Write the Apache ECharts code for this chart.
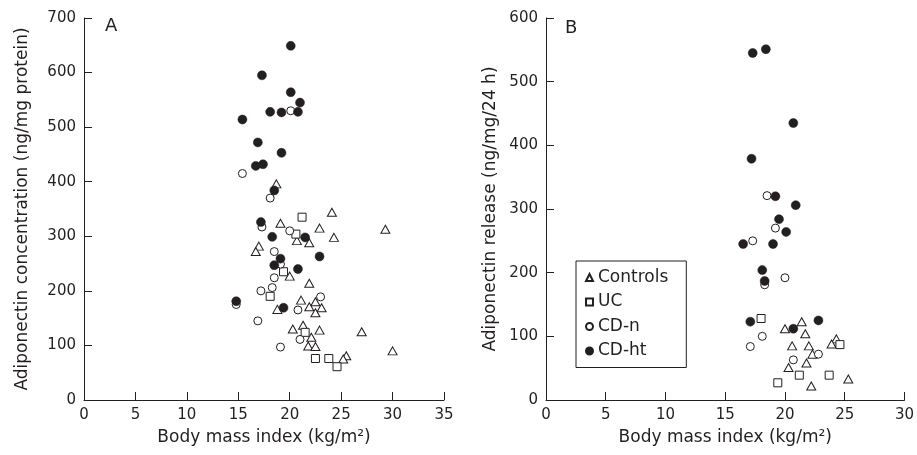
<!DOCTYPE html>
<html>
<head>
<meta charset="utf-8">
<script src="https://cdn.jsdelivr.net/npm/echarts@6/dist/echarts.min.js"></script>
<style>
  html, body { margin: 0; padding: 0; background: #fff; }
  #chart { width: 917px; height: 455px; }
</style>
</head>
<body>
<div id="chart"></div>
<script>
// Panel A: adiponectin concentration vs BMI, [BMI, ng/mg protein]
const controlsA = [[18.7,396],[24.1,344],[19.1,324],[22.9,315],[29.3,313],[20.7,292],[21.9,288],[24.3,298],[17.0,282],[16.7,272],[20.0,227],[21.9,214],[21.1,183],[22.5,180],[21.9,171],[23.1,169],[22.5,160],[18.8,166],[20.3,130],[21.3,137],[22.9,128],[27.0,125],[22.1,115],[21.8,99],[22.5,98],[30.0,90],[25.5,81],[25.2,75]];
const ucA = [[21.2,335],[20.6,304],[19.4,235],[18.1,190],[21.5,124],[22.5,76],[23.8,76],[24.6,61]];
const cdnA = [[15.4,415],[20.1,530],[18.1,370],[17.3,317],[20.0,310],[18.5,272],[19.1,249],[18.5,224],[18.3,206],[17.2,200],[23.0,189],[14.8,175],[20.8,165],[16.9,145],[21.0,111],[19.1,97]];
const cdhtA = [[20.1,649],[17.3,595],[20.1,564],[21.0,545],[18.1,528],[19.2,527],[20.8,528],[15.4,514],[16.9,472],[19.2,453],[16.7,429],[17.4,432],[18.5,384],[17.2,326],[18.3,299],[21.5,298],[19.1,259],[18.5,247],[22.9,263],[20.8,240],[14.8,181],[19.4,169]];

// Panel B: adiponectin release vs BMI, [BMI, ng/mg/24 h]
const controlsB = [[21.4,123],[20.0,112],[21.7,104],[20.6,85],[22.0,85],[22.3,72],[24.3,96],[23.9,88],[21.8,58],[20.3,51],[22.2,22],[25.3,33]];
const ucB = [[18.0,128],[24.6,87],[21.2,39],[23.7,39],[19.4,27]];
const cdnB = [[18.5,321],[19.2,270],[17.3,250],[20.0,192],[18.3,181],[18.1,100],[17.1,84],[22.8,72],[20.7,63]];
const cdhtB = [[17.3,545],[18.4,551],[20.7,435],[17.2,379],[19.2,320],[20.9,306],[19.5,284],[20.1,264],[16.5,245],[19.0,245],[18.1,204],[18.3,187],[17.1,123],[22.8,125],[20.7,112]];

const groupNames = ['Controls', 'UC', 'CD-n', 'CD-ht'];
const xTitle = 'Body mass index (kg/m²)';
const yTitleA = 'Adiponectin concentration (ng/mg protein)';
const yTitleB = 'Adiponectin release (ng/mg/24 h)';

const INK = '#231f20';
const FONT = 'DejaVu Sans';

const markers = {
  'Controls': { symbol: 'triangle', symbolSize: [9, 8], itemStyle: { color: '#fff', borderColor: INK, borderWidth: 1, opacity: 1 } },
  'UC':       { symbol: 'rect', symbolSize: 8, itemStyle: { color: '#fff', borderColor: INK, borderWidth: 1, opacity: 1 } },
  'CD-n':     { symbol: 'circle', symbolSize: 8, itemStyle: { color: '#fff', borderColor: INK, borderWidth: 1, opacity: 1 } },
  'CD-ht':    { symbol: 'circle', symbolSize: 9, itemStyle: { color: INK, borderColor: INK, borderWidth: 0.5, opacity: 1 } }
};

function axisBase() {
  return {
    axisLine: { show: true, lineStyle: { color: INK, width: 1 } },
    axisTick: { show: true, inside: true, length: 8, lineStyle: { color: INK } },
    axisLabel: { color: INK, fontFamily: FONT, fontSize: 15 },
    splitLine: { show: false },
    nameTextStyle: { color: INK, fontFamily: FONT, fontSize: 17 }
  };
}

function scatter(name, data, idx) {
  const m = markers[name];
  return {
    type: 'scatter', name: name, data: data,
    xAxisIndex: idx, yAxisIndex: idx,
    symbol: m.symbol, symbolSize: m.symbolSize,
    itemStyle: m.itemStyle,
    emphasis: { disabled: true },
    z: name === 'CD-ht' ? 3 : 2
  };
}

const chart = echarts.init(document.getElementById('chart'), null, { renderer: 'canvas' });
chart.setOption({
  animation: false,
  backgroundColor: '#fff',
  textStyle: { fontFamily: FONT },
  title: [
    { text: 'A', left: 100, top: 12, textStyle: { fontFamily: FONT, fontSize: 18, fontWeight: 'normal', color: INK } },
    { text: 'B', left: 560, top: 14, textStyle: { fontFamily: FONT, fontSize: 18, fontWeight: 'normal', color: INK } }
  ],
  grid: [
    { left: 84, right: 473, top: 18, bottom: 55 },
    { left: 546, right: 12, top: 18, bottom: 55 }
  ],
  xAxis: [
    Object.assign(axisBase(), { gridIndex: 0, type: 'value', min: 0, max: 35, interval: 5, name: xTitle, nameLocation: 'middle', nameGap: 29 }),
    Object.assign(axisBase(), { gridIndex: 1, type: 'value', min: 0, max: 30, interval: 5, name: xTitle, nameLocation: 'middle', nameGap: 29 })
  ],
  yAxis: [
    Object.assign(axisBase(), { gridIndex: 0, type: 'value', min: 0, max: 700, interval: 100, name: yTitleA, nameLocation: 'middle', nameGap: 53 }),
    Object.assign(axisBase(), { gridIndex: 1, type: 'value', min: 0, max: 600, interval: 100, name: yTitleB, nameLocation: 'middle', nameGap: 47 })
  ],
  legend: {
    data: groupNames,
    orient: 'vertical',
    left: 576, top: 261,
    padding: [8, 18, 8, 9],
    backgroundColor: '#fff',
    borderColor: INK, borderWidth: 1,
    itemWidth: 7, itemHeight: 7, itemGap: 7.5,
    selectedMode: false,
    textStyle: { color: INK, fontFamily: FONT, fontSize: 17, lineHeight: 16 }
  },
  series: [
    scatter('Controls', controlsA, 0), scatter('UC', ucA, 0), scatter('CD-n', cdnA, 0), scatter('CD-ht', cdhtA, 0),
    scatter('Controls', controlsB, 1), scatter('UC', ucB, 1), scatter('CD-n', cdnB, 1), scatter('CD-ht', cdhtB, 1)
  ]
});
</script>
</body>
</html>
